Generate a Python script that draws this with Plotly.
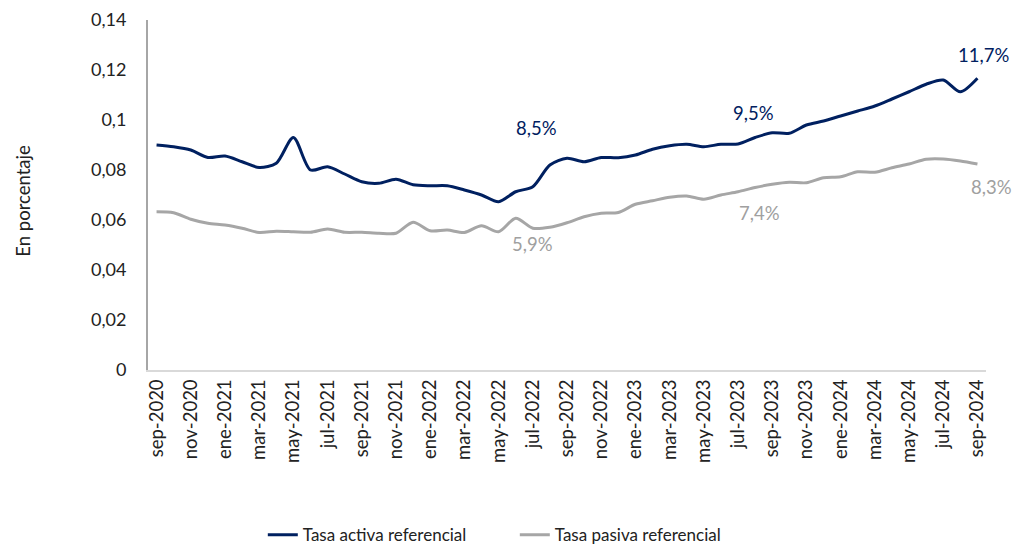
import plotly.graph_objects as go

months = ["sep-2020","oct-2020","nov-2020","dic-2020","ene-2021","feb-2021","mar-2021","abr-2021",
          "may-2021","jun-2021","jul-2021","ago-2021","sep-2021","oct-2021","nov-2021","dic-2021",
          "ene-2022","feb-2022","mar-2022","abr-2022","may-2022","jun-2022","jul-2022","ago-2022",
          "sep-2022","oct-2022","nov-2022","dic-2022","ene-2023","feb-2023","mar-2023","abr-2023",
          "may-2023","jun-2023","jul-2023","ago-2023","sep-2023","oct-2023","nov-2023","dic-2023",
          "ene-2024","feb-2024","mar-2024","abr-2024","may-2024","jun-2024","jul-2024","ago-2024",
          "sep-2024"]

tasa_activa = [0.0900, 0.0893, 0.0880, 0.0850, 0.0856, 0.0833, 0.0810, 0.0827,
               0.0930, 0.0800, 0.0813, 0.0784, 0.0753, 0.0747, 0.0763, 0.0741,
               0.0737, 0.0737, 0.0720, 0.0700, 0.0673, 0.0713, 0.0733, 0.0820,
               0.0847, 0.0833, 0.0850, 0.0849, 0.0860, 0.0883, 0.0897, 0.0903,
               0.0893, 0.0903, 0.0904, 0.0930, 0.0949, 0.0947, 0.0980, 0.0996,
               0.1016, 0.1036, 0.1056, 0.1084, 0.1113, 0.1143, 0.1160, 0.1113,
               0.1167]

tasa_pasiva = [0.0633, 0.0629, 0.0603, 0.0587, 0.0580, 0.0567, 0.0550, 0.0555,
               0.0553, 0.0551, 0.0564, 0.0551, 0.0551, 0.0547, 0.0547, 0.0591,
               0.0557, 0.0560, 0.0550, 0.0577, 0.0553, 0.0607, 0.0567, 0.0571,
               0.0589, 0.0613, 0.0627, 0.0630, 0.0663, 0.0677, 0.0691, 0.0696,
               0.0683, 0.0700, 0.0713, 0.0730, 0.0743, 0.0751, 0.0749, 0.0769,
               0.0773, 0.0793, 0.0791, 0.0809, 0.0824, 0.0843, 0.0844, 0.0836,
               0.0824]

tick_labels = months[::2]

labels_activa = [("jul-2022", "8,5%"), ("jul-2023", "9,5%"), ("sep-2024", "11,7%")]
labels_pasiva = [("jul-2022", "5,9%"), ("jul-2023", "7,4%"), ("sep-2024", "8,3%")]

NAVY = "#002060"
GRAY = "#A6A6A6"
FONT = "Lato"

fig = go.Figure()
fig.add_trace(go.Scatter(x=months, y=tasa_activa, mode="lines", name="Tasa activa referencial",
                         line=dict(color=NAVY, width=3, shape="spline", smoothing=0.8)))
fig.add_trace(go.Scatter(x=months, y=tasa_pasiva, mode="lines", name="Tasa pasiva referencial",
                         line=dict(color=GRAY, width=3, shape="spline", smoothing=0.8)))

idx = {m: i for i, m in enumerate(months)}
act_shift = {"jul-2022": (3.5, 59), "jul-2023": (15, 31), "sep-2024": (6, 23)}
for m, t in labels_activa:
    dx, dy = act_shift[m]
    fig.add_annotation(x=m, y=tasa_activa[idx[m]], text=t, showarrow=False,
                       xshift=dx, yshift=dy, font=dict(family=FONT, size=18.5, color=NAVY))
pas_shift = {"jul-2022": (0, -16), "jul-2023": (21, -21), "sep-2024": (14, -23)}
for m, t in labels_pasiva:
    dx, dy = pas_shift[m]
    fig.add_annotation(x=m, y=tasa_pasiva[idx[m]], text=t, showarrow=False,
                       xshift=dx, yshift=dy, font=dict(family=FONT, size=18.5, color="#A0A0A0"))

fig.add_annotation(x=-0.1495, y=0.483, xref="paper", yref="paper", text="En porcentaje",
                   xanchor="center", yanchor="middle",
                   textangle=-90, showarrow=False, font=dict(family=FONT, size=18.5, color="#222"))

# page body adds an 8px margin, so the figure is sized to fit the 1020x558 window
fig.update_layout(
    width=1004, height=542,
    margin=dict(l=140, r=26, t=12, b=180, autoexpand=False),
    paper_bgcolor="white", plot_bgcolor="white",
    separators=",.",
    font=dict(family=FONT, size=17, color="#222"),
    showlegend=True,
    legend=dict(orientation="h", x=0.137, xanchor="left", y=-0.472, yanchor="middle",
                font=dict(family=FONT, size=17, color="#222"), entrywidth=207),
    xaxis=dict(type="category", range=[-0.5, 48.5], tickmode="array", tickvals=tick_labels,
               ticktext=tick_labels, tickangle=-90, showgrid=False, showline=True,
               linecolor="#D9D9D9", linewidth=2, ticks="", ticklabelstandoff=0,
               tickfont=dict(family=FONT, size=18.5, color="#222")),
    yaxis=dict(range=[0, 0.14], dtick=0.02, tick0=0, showgrid=False, showline=True,
               linecolor="#A6A6A6", linewidth=2, ticks="", ticklabelstandoff=16,
               zeroline=False, tickfont=dict(family=FONT, size=18, color="#222")),
)

fig.write_html("out.html")
